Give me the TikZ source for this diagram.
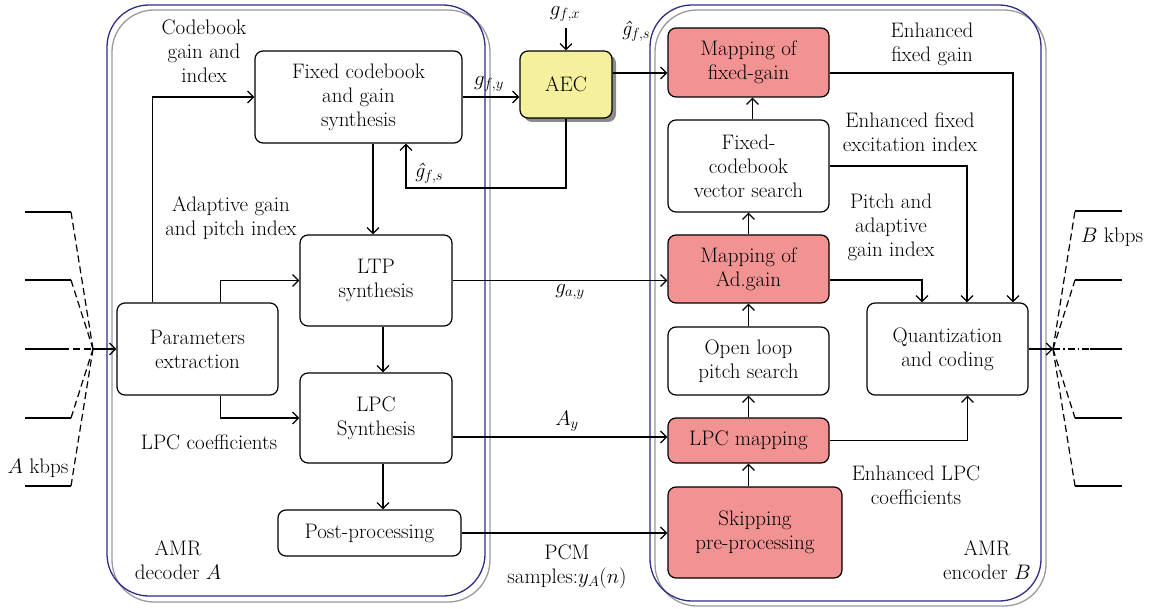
\RequirePackage{fix-cm}
\documentclass[tikz,border=0pt]{standalone}
\usetikzlibrary{arrows.meta,shadows,calc}

\definecolor{framenavy}{HTML}{2E2E86}
\definecolor{framegray}{HTML}{9A9A9A}
\definecolor{pinkfill}{HTML}{F29393}
\definecolor{aecfill}{HTML}{F4F09C}
\definecolor{shadowgray}{HTML}{8A8A8A}

\tikzset{
  blk/.style={draw, line width=1.2pt, rounded corners=8pt, align=center,
              inner sep=0pt, minimum width=161pt},
  pinkblk/.style={blk, fill=pinkfill},
  lbl/.style={align=center, inner sep=0pt},
  arr/.style={-{Straight Barb[length=6pt,width=12pt]}, line width=1.2pt},
  wire/.style={line width=1.2pt},
  dwire/.style={line width=1.2pt, dash pattern=on 7pt off 4pt},
  navyframe/.style={draw=framenavy, line width=1.3pt, rounded corners=42pt},
  grayframe/.style={draw=framegray, line width=1.3pt, rounded corners=42pt},
}
% estimated fixed gain symbol
\newcommand{\gfsest}{{\itshape\^{g}}$_{f,s}$}

\begin{document}
\begin{tikzpicture}[x=1pt, y=-1pt, font=\fontsize{21}{24}\selectfont]
\useasboundingbox (0,0) rectangle (1150,609);

% decoder and encoder frames
\draw[grayframe] (112,10) rectangle (490,602);
\draw[navyframe] (107,5) rectangle (485,596);
\draw[grayframe] (655,10) rectangle (1046,606);
\draw[navyframe] (650,5) rectangle (1041,601);

% decoder blocks
\node[blk, minimum width=207pt, minimum height=92pt] (fcb) at (358.5,97) {Fixed codebook\\and gain\\synthesis};
\node[blk, minimum height=92pt] (par) at (197.5,349) {Parameters\\extraction};
\node[blk, minimum width=152pt, minimum height=91pt] (ltp) at (376,280.5) {LTP\\synthesis};
\node[blk, minimum width=152pt, minimum height=90pt] (lpcs) at (376,418) {LPC\\Synthesis};
\node[blk, minimum width=183pt, minimum height=46pt] (post) at (369.5,533) {Post-processing};

% echo control block
\node[blk, fill=aecfill, minimum width=92pt, minimum height=67pt,
      drop shadow={shadow xshift=4pt, shadow yshift=-4pt, fill=shadowgray, opacity=1}]
      (aec) at (566,84.5) {AEC};

% encoder blocks
\node[pinkblk, minimum height=69pt] (mfg) at (748.5,62.5) {Mapping of\\fixed-gain};
\node[blk, minimum height=92pt] (fcv) at (748.5,166) {Fixed-\\codebook\\vector search};
\node[pinkblk, minimum height=68pt] (mad) at (748.5,269) {Mapping of\\Ad.gain};
\node[blk, minimum height=68pt] (olp) at (748.5,361) {Open loop\\pitch search};
\node[pinkblk, minimum height=45pt] (lpcm) at (748.5,440.5) {LPC mapping};
\node[pinkblk, minimum width=174pt, minimum height=91pt] (skip) at (755,532.5) {Skipping\\pre-processing};
\node[blk, minimum height=92pt] (quant) at (947.5,349) {Quantization\\and coding};

% decoder connections
\draw[arr] ([xshift=36pt]par.north west) |- (fcb.west);
\draw[arr] ([xshift=104pt]par.north west) |- (ltp.west);
\draw[arr] ([xshift=104pt]par.south west) |- (lpcs.west);
\coordinate (ltpin) at ([xshift=-3pt]ltp.north);
\draw[arr] (fcb.south -| ltpin) -- (ltpin);
\coordinate (ltpout) at ([xshift=7pt]ltp.south);
\draw[arr] (ltpout) -- (ltpout |- lpcs.north);
\coordinate (lpcsout) at ([xshift=7pt]lpcs.south);
\draw[arr] (lpcsout) -- (lpcsout |- post.north);

% echo control loop
\draw[arr] (fcb.east) -- (aec.west |- fcb.east);
\coordinate (gfx) at (566,28);
\draw[arr] (gfx) -- (aec.north);
\coordinate (aecout) at ([yshift=11.5pt]aec.east);
\draw[arr] (aecout) -- (mfg.west |- aecout);
\coordinate (fb) at (406,188);
\draw[arr] (aec.south) |- (fb) -- (fb |- fcb.south);

% decoder to encoder
\draw[arr] (ltp.east) -- (mad.west |- ltp.east);
\coordinate (lpcsright) at ([yshift=-19pt]lpcs.east);
\draw[arr] (lpcsright) -- (lpcm.west |- lpcsright);
\draw[arr] (post.east) -- (skip.west |- post.east);

% encoder chain
\draw[arr] (skip.north -| lpcm.south) -- (lpcm.south);
\draw[arr] (lpcm.north) -- (olp.south);
\draw[arr] (olp.north) -- (mad.south);
\draw[arr] (mad.north) -- (fcv.south);
\draw[arr] ([xshift=4pt]fcv.north) -- ([xshift=4pt]mfg.south);

% into quantization
\draw[arr] ([yshift=-10.5pt]mfg.east) -| ([xshift=65.5pt]quant.north);
\draw[arr] (fcv.east) -| ([xshift=19.5pt]quant.north);
\draw[arr] ([yshift=-11pt]mad.east) -| ([xshift=-25.5pt]quant.north);
\draw[arr] (lpcm.east) -| ([xshift=20pt]quant.south);

% input bit streams
\coordinate (inL) at (93,349);
\foreach \yy in {212,280,418,486} {
  \draw[wire] (25,\yy) -- (71,\yy);
  \draw[dwire] (71,\yy) -- (inL);
}
\draw[wire] (25,349) -- (62,349);
\draw[dwire] (62,349) -- (inL);
\draw[arr] (inL) -- (par.west);

% output bit streams
\coordinate (outR) at (1053,349);
\draw[arr] (quant.east) -- (outR);
\foreach \yy in {211,280,418,486} {
  \draw[dwire] (outR) -- (1075,\yy);
  \draw[wire] (1075,\yy) -- (1122,\yy);
}
\draw[line width=1.2pt, dash pattern=on 7pt off 3pt on 1.5pt off 3pt] (outR) -- (1090,349);
\draw[wire] (1090,349) -- (1122,349);

% labels
\node[lbl] (lcb) at (204,51) {Codebook\\gain and\\index};
\node[lbl] (lag) at (231,218) {Adaptive gain\\and pitch index};
\node[lbl] (llpc) at (209,442) {LPC coefficients};
\node[lbl] (ldec) at (178,560) {AMR\\decoder $A$};
\node[lbl] (lenc) at (987,560) {AMR\\encoder $B$};
\node[lbl] (lefg) at (932,44) {Enhanced\\fixed gain};
\node[lbl] (lefe) at (910,132) {Enhanced fixed\\excitation index};
\node[lbl] (lpa) at (891,227) {Pitch and\\adaptive\\gain index};
\node[lbl] (lelpc) at (916,485) {Enhanced LPC\\coefficients};
\node[lbl] (lpcmlbl) at (567,567) {PCM\\samples:$y_A(n)$};
\node[lbl] (lakb) at (38,468) {$A$ kbps};
\node[lbl] (lbkb) at (1112,237) {$B$ kbps};
\node[lbl] (lgfy) at (489,84) {$g_{f,y}$};
\node[lbl] (lgfx) at (565,14) {$g_{f,x}$};
\node[lbl] (lgfs1) at (636,31) {\gfsest};
\node[lbl] (lgfs2) at (429,173) {\gfsest};
\node[lbl] (lgay) at (570,292) {$g_{a,y}$};
\node[lbl] (lay) at (567,421) {$A_y$};
\end{tikzpicture}
\end{document}
